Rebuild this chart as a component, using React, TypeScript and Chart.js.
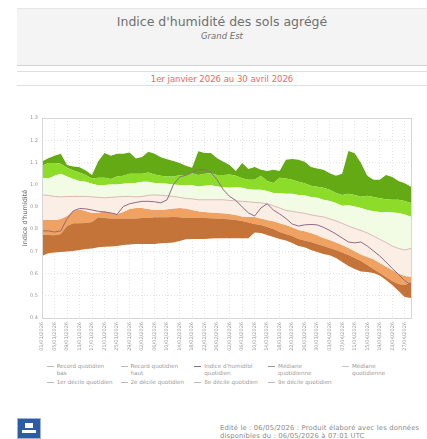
import React, { useEffect, useRef } from "react";
import { Chart, registerables } from "chart.js";

Chart.register(...registerables);

const dates = [
  "01/01/2026", "03/01/2026", "05/01/2026", "07/01/2026", "09/01/2026", "11/01/2026", "13/01/2026", "15/01/2026",
  "17/01/2026", "19/01/2026", "21/01/2026", "23/01/2026", "25/01/2026", "27/01/2026", "29/01/2026", "31/01/2026",
  "02/02/2026", "04/02/2026", "06/02/2026", "08/02/2026", "10/02/2026", "12/02/2026", "14/02/2026",
  "16/02/2026", "18/02/2026", "20/02/2026", "22/02/2026", "24/02/2026", "26/02/2026", "28/02/2026",
  "02/03/2026", "04/03/2026", "06/03/2026", "08/03/2026", "10/03/2026", "12/03/2026", "14/03/2026", "16/03/2026",
  "18/03/2026", "20/03/2026", "22/03/2026", "24/03/2026", "26/03/2026", "28/03/2026", "30/03/2026",
  "01/04/2026", "03/04/2026", "05/04/2026", "07/04/2026", "09/04/2026", "11/04/2026", "13/04/2026", "15/04/2026",
  "17/04/2026", "19/04/2026", "21/04/2026", "23/04/2026", "25/04/2026", "27/04/2026", "29/04/2026",
];

const recordLow = [
  0.679, 0.691, 0.695, 0.697, 0.699, 0.702, 0.706, 0.711, 0.713, 0.718,
  0.721, 0.722, 0.724, 0.729, 0.731, 0.733, 0.733, 0.733, 0.733, 0.736,
  0.738, 0.74, 0.747, 0.754, 0.756, 0.756, 0.756, 0.758, 0.759, 0.759,
  0.759, 0.759, 0.759, 0.759, 0.785, 0.783, 0.774, 0.765, 0.756, 0.749,
  0.738, 0.724, 0.718, 0.706, 0.697, 0.688, 0.682, 0.67, 0.652, 0.634,
  0.621, 0.609, 0.607, 0.603, 0.591, 0.571, 0.549, 0.522, 0.495, 0.49,
];

const decile1 = [
  0.774, 0.774, 0.772, 0.778, 0.814, 0.826, 0.826, 0.828, 0.832, 0.853,
  0.85, 0.848, 0.848, 0.848, 0.848, 0.848, 0.85, 0.85, 0.853, 0.853,
  0.853, 0.855, 0.853, 0.85, 0.85, 0.85, 0.85, 0.849, 0.848, 0.846,
  0.844, 0.841, 0.837, 0.83, 0.823, 0.819, 0.81, 0.801, 0.787, 0.778,
  0.769, 0.756, 0.749, 0.742, 0.733, 0.724, 0.715, 0.706, 0.695, 0.684,
  0.67, 0.657, 0.639, 0.621, 0.603, 0.585, 0.567, 0.553, 0.549, 0.562,
];

const decile2 = [
  0.841, 0.841, 0.841, 0.846, 0.859, 0.882, 0.889, 0.882, 0.873, 0.873,
  0.882, 0.873, 0.868, 0.877, 0.891, 0.895, 0.895, 0.891, 0.886, 0.886,
  0.889, 0.893, 0.895, 0.893, 0.886, 0.88, 0.877, 0.875, 0.872, 0.871,
  0.868, 0.864, 0.857, 0.855, 0.855, 0.848, 0.841, 0.835, 0.826, 0.819,
  0.808, 0.796, 0.79, 0.783, 0.772, 0.76, 0.751, 0.74, 0.729, 0.715,
  0.7, 0.686, 0.675, 0.664, 0.648, 0.632, 0.616, 0.6, 0.589, 0.586,
];

const median = [
  0.954, 0.952, 0.947, 0.945, 0.947, 0.947, 0.947, 0.947, 0.945, 0.943,
  0.941, 0.943, 0.945, 0.947, 0.947, 0.945, 0.947, 0.952, 0.954, 0.952,
  0.95, 0.947, 0.943, 0.938, 0.936, 0.932, 0.932, 0.932, 0.932, 0.932,
  0.929, 0.927, 0.925, 0.923, 0.92, 0.918, 0.914, 0.905, 0.895, 0.884,
  0.88, 0.875, 0.871, 0.864, 0.859, 0.855, 0.846, 0.837, 0.826, 0.814,
  0.803, 0.794, 0.783, 0.769, 0.754, 0.74, 0.724, 0.713, 0.706, 0.713,
];

const decile8 = [
  1.031, 1.028, 1.04, 1.049, 1.037, 1.026, 1.017, 1.013, 1.004, 0.997,
  0.999, 1.001, 1.001, 1.004, 1.006, 1.008, 1.013, 1.013, 1.008, 1.006,
  1.004, 1.001, 0.999, 0.999, 0.997, 0.992, 0.995, 0.997, 0.992, 0.988,
  0.986, 0.99, 0.986, 0.979, 0.977, 0.977, 0.972, 0.963, 0.961, 0.959,
  0.959, 0.954, 0.952, 0.945, 0.941, 0.932, 0.927, 0.918, 0.905, 0.907,
  0.902, 0.895, 0.886, 0.88, 0.877, 0.877, 0.875, 0.873, 0.866, 0.856,
];

const decile9 = [
  1.085, 1.098, 1.098, 1.094, 1.076, 1.064, 1.055, 1.044, 1.028, 1.031,
  1.031, 1.026, 1.037, 1.04, 1.049, 1.049, 1.049, 1.055, 1.046, 1.04,
  1.037, 1.037, 1.042, 1.044, 1.051, 1.044, 1.049, 1.051, 1.044, 1.044,
  1.046, 1.04, 1.029, 1.022, 1.022, 1.04, 1.017, 1.007, 1.031, 1.028,
  1.022, 1.013, 1.006, 0.995, 0.991, 0.986, 0.977, 0.963, 0.954, 0.959,
  0.954, 0.946, 0.95, 0.945, 0.939, 0.934, 0.932, 0.932, 0.927, 0.917,
];

const recordHigh = [
  1.104, 1.119, 1.13, 1.139, 1.089, 1.082, 1.078, 1.064, 1.044, 1.105,
  1.143, 1.13, 1.139, 1.139, 1.145, 1.118, 1.125, 1.148, 1.139, 1.123,
  1.114, 1.107, 1.098, 1.085, 1.076, 1.15, 1.143, 1.142, 1.119, 1.103,
  1.089, 1.062, 1.098, 1.071, 1.08, 1.067, 1.062, 1.067, 1.062, 1.112,
  1.116, 1.112, 1.103, 1.08, 1.073, 1.067, 1.051, 1.04, 1.049, 1.152,
  1.141, 1.097, 1.04, 1.022, 1.022, 1.044, 1.035, 1.017, 1.006, 0.991,
];

const swi = [
  0.792, 0.792, 0.787, 0.792, 0.846, 0.882, 0.893, 0.891, 0.886, 0.88,
  0.877, 0.873, 0.866, 0.902, 0.914, 0.92, 0.925, 0.925, 0.923, 0.918,
  0.932, 0.999, 1.035, 1.042, 1.055, 1.069, 1.067, 1.055, 1.022, 0.977,
  0.947, 0.929, 0.9, 0.873, 0.859, 0.895, 0.914, 0.886, 0.868, 0.848,
  0.823, 0.814, 0.819, 0.821, 0.819, 0.808, 0.794, 0.778, 0.76, 0.742,
  0.738, 0.742, 0.724, 0.702, 0.679, 0.652, 0.623, 0.596, 0.568, 0.549,
];

const titleText = "Indice d'humidité des sols agrégé";
const subtitleText = "Grand Est";
const periodText = "1er janvier 2026 au 30 avril 2026";
const yAxisTitle = "Indice d'humidité";
const yMin = 0.4;
const yMax = 1.3;
const yStep = 0.1;

const legendRow1 = [
  "Record quotidien\nbas",
  "Record quotidien\nhaut",
  "Indice d'humidité\nquotidien",
  "Médiane\nquotidienne",
  "Médiane\nquotidienne",
];
const legendRow1Colors = ["#bbbbbb", "#bbbbbb", "#8a6a86", "#999999", "#c8c8c8"];
const legendRow2 = [
  "1er décile quotidien",
  "2e décile quotidien",
  "8e décile quotidien",
  "9e décile quotidien",
];
const legendRow2Colors = ["#bbbbbb", "#bbbbbb", "#bbbbbb", "#bbbbbb"];

const footerLines = [
  "Edité le : 06/05/2026 : Produit élaboré avec les données",
  "disponibles du : 06/05/2026 à 07:01 UTC",
];

const FONT = "'DejaVu Sans', sans-serif";

const plotFrame = {
  id: "plotFrame",
  afterDatasetsDraw(chart: any) {
    const { ctx, chartArea } = chart;
    ctx.save();
    ctx.strokeStyle = "#d6d6d6";
    ctx.lineWidth = 1;
    ctx.strokeRect(
      Math.round(chartArea.left) + 0.5,
      Math.round(chartArea.top) + 0.5,
      Math.round(chartArea.right - chartArea.left),
      Math.round(chartArea.bottom - chartArea.top)
    );
    ctx.restore();
  },
};

function ChartCanvas() {
  const ref = useRef<HTMLCanvasElement | null>(null);
  useEffect(() => {
    if (!ref.current) return;
    const band = (label: string, data: number[], color: string, order = 2) => ({
      label,
      data,
      backgroundColor: color,
      borderColor: "rgba(0,0,0,0)",
      borderWidth: 0,
      pointRadius: 0,
      fill: "-1",
      order,
      tension: 0,
    });
    const chart = new Chart(ref.current, {
      type: "line",
      data: {
        labels: dates,
        datasets: [
          {
            label: "Record quotidien bas",
            data: recordLow,
            borderColor: "rgba(0,0,0,0)",
            borderWidth: 0,
            pointRadius: 0,
            fill: false,
            order: 2,
          },
          band("1er décile quotidien", decile1, "#c47438"),
          band("2e décile quotidien", decile2, "#f0a263"),
          {
            ...band("Médiane quotidienne", median, "#fbeee5", 1),
            borderColor: "#dcb9b6",
            borderWidth: 1,
          },
          band("8e décile quotidien", decile8, "#f2fbe4"),
          band("9e décile quotidien", decile9, "#8ddc29"),
          band("Record quotidien haut", recordHigh, "#64aa14"),
          {
            label: "Indice d'humidité quotidien",
            data: swi,
            borderColor: "#8e6a88",
            borderWidth: 1,
            pointRadius: 0,
            fill: false,
            order: 0,
            tension: 0,
          },
        ],
      } as any,
      options: {
        animation: false,
        responsive: false,
        maintainAspectRatio: false,
        layout: { padding: { top: 18, right: 16, bottom: 2, left: 0 } },
        plugins: {
          legend: { display: false },
          tooltip: { enabled: false },
          title: { display: false },
        },
        scales: {
          x: {
            type: "category",
            grid: { color: "#e4e4e4", drawTicks: false },
            border: { display: false, dash: [1, 2] },
            ticks: {
              autoSkip: false,
              minRotation: 90,
              maxRotation: 90,
              padding: 4,
              color: "#9a9a9a",
              font: { size: 5, family: FONT },
              callback: (_v: any, i: number) => (i % 2 === 0 ? dates[i] : null),
            },
            afterFit: (s: any) => {
              s.height = 40;
            },
          },
          y: {
            min: yMin,
            max: yMax,
            grid: { color: "#e4e4e4", drawTicks: false },
            border: { display: false, dash: [1, 2] },
            ticks: {
              stepSize: yStep,
              padding: 4,
              color: "#9a9a9a",
              font: { size: 5, family: FONT },
              callback: (v: any) => Number(v).toFixed(1),
            },
            title: {
              display: true,
              text: yAxisTitle,
              color: "#6a6a6a",
              font: { size: 6.5, family: FONT },
              padding: { top: 21, bottom: 0 },
            },
            afterFit: (s: any) => {
              s.width = 42;
            },
          },
        },
      } as any,
      plugins: [plotFrame],
    });
    return () => chart.destroy();
  }, []);
  return (
    <canvas
      ref={ref}
      width={427}
      height={260}
      style={{ position: "absolute", left: 0, top: 100, width: 427, height: 260 }}
    />
  );
}

export default function App() {
  const colX = (i: number) => 46.7 + i * 73.8;
  return (
    <div
      style={{
        position: "absolute",
        left: 0,
        top: 0,
        width: 427,
        height: 439,
        overflow: "hidden",
        background: "#ffffff",
        fontFamily: FONT,
      }}
    >
      <div
        style={{
          position: "absolute",
          left: 17,
          top: 8,
          width: 410,
          height: 56,
          background: "#f4f4f4",
          borderTop: "1px solid #e6e6e6",
          borderBottom: "1px solid #d4d4d4",
        }}
      />
      <div
        style={{
          position: "absolute",
          left: 17,
          top: 14,
          width: 410,
          textAlign: "center",
          fontSize: 12.5,
          lineHeight: "16px",
          color: "#707070",
        }}
      >
        {titleText}
      </div>
      <div
        style={{
          position: "absolute",
          left: 17,
          top: 31,
          width: 410,
          textAlign: "center",
          fontSize: 8.5,
          lineHeight: "11px",
          fontStyle: "italic",
          color: "#707070",
        }}
      >
        {subtitleText}
      </div>
      <div style={{ position: "absolute", left: 17, top: 71, width: 410, height: 1, background: "#e0e0e0" }} />
      <div
        style={{
          position: "absolute",
          left: 17,
          top: 73,
          width: 410,
          textAlign: "center",
          fontSize: 8.5,
          lineHeight: "12px",
          color: "#ff6262",
        }}
      >
        {periodText}
      </div>
      <div style={{ position: "absolute", left: 17, top: 85, width: 410, height: 1, background: "#e0e0e0" }} />

      <ChartCanvas />

      {legendRow1.map((t, i) => (
        <div key={"r1" + i} style={{ position: "absolute", left: colX(i), top: 363 }}>
          <div
            style={{
              position: "absolute",
              left: 0,
              top: 3,
              width: 7,
              height: 1,
              background: legendRow1Colors[i],
            }}
          />
          <div
            style={{
              position: "absolute",
              left: 10,
              top: 0,
              whiteSpace: "pre",
              fontSize: 5.6,
              lineHeight: "7.4px",
              color: "#9a9a9a",
            }}
          >
            {t}
          </div>
        </div>
      ))}
      {legendRow2.map((t, i) => (
        <div key={"r2" + i} style={{ position: "absolute", left: colX(i), top: 379 }}>
          <div
            style={{
              position: "absolute",
              left: 0,
              top: 3,
              width: 7,
              height: 1,
              background: legendRow2Colors[i],
            }}
          />
          <div
            style={{
              position: "absolute",
              left: 10,
              top: 0,
              whiteSpace: "pre",
              fontSize: 5.6,
              lineHeight: "7.4px",
              color: "#9a9a9a",
            }}
          >
            {t}
          </div>
        </div>
      ))}

      <div
        style={{
          position: "absolute",
          left: 17,
          top: 418,
          width: 24,
          height: 21,
          background: "#2d5ca6",
          border: "1px solid #9fb5d8",
          boxSizing: "border-box",
        }}
      >
        <div style={{ position: "absolute", left: 7, top: 4, width: 8, height: 5, background: "#ffffff" }} />
        <div style={{ position: "absolute", left: 4, top: 11, width: 14, height: 3, background: "#ffffff" }} />
      </div>
      <div
        style={{
          position: "absolute",
          left: 220,
          top: 425,
          whiteSpace: "pre",
          fontSize: 6.8,
          letterSpacing: 0.15,
          lineHeight: "7.6px",
          color: "#8a8a8a",
        }}
      >
        {footerLines.join("\n")}
      </div>
    </div>
  );
}
